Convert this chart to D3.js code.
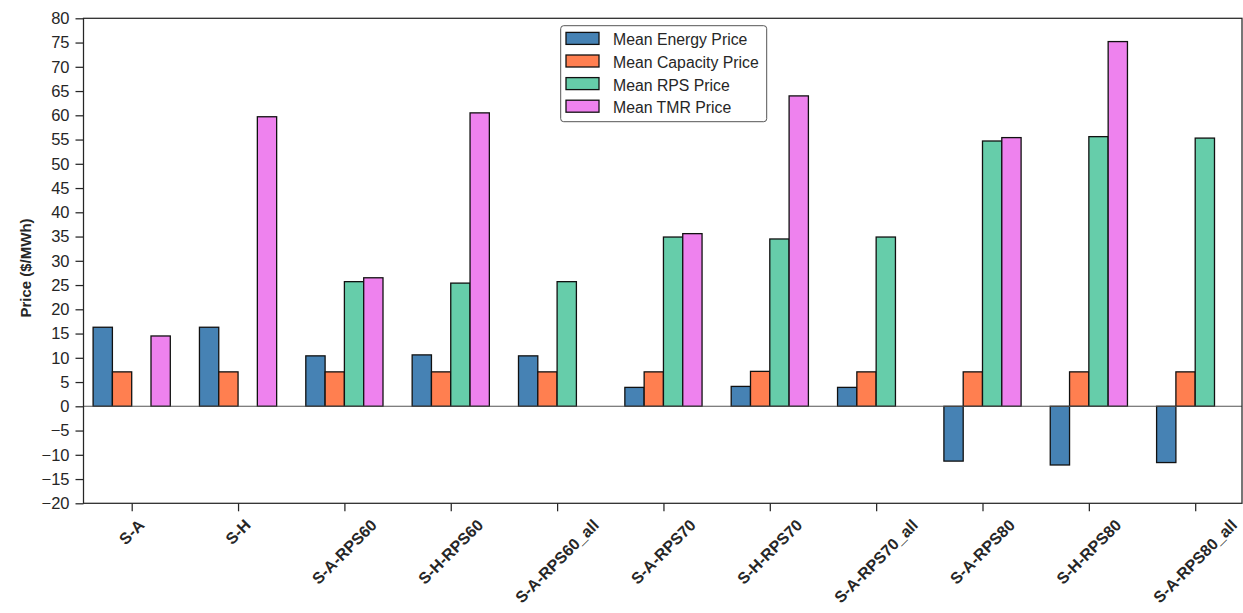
<!DOCTYPE html>
<html>
<head>
<meta charset="utf-8">
<script src="https://cdn.jsdelivr.net/npm/d3@7"></script>
<style>
  body { margin: 0; background: #fff; }
  svg { display: block; font-family: "Liberation Sans", Arial, sans-serif; }
</style>
</head>
<body>
<div id="chart"></div>
<script>
// scenario names on the x axis
const scenarios = ["S-A", "S-H", "S-A-RPS60", "S-H-RPS60", "S-A-RPS60_all", "S-A-RPS70",
                   "S-H-RPS70", "S-A-RPS70_all", "S-A-RPS80", "S-H-RPS80", "S-A-RPS80_all"];

// series ($/MWh)
const seriesNames = ["Mean Energy Price", "Mean Capacity Price", "Mean RPS Price", "Mean TMR Price"];
const energyPrice   = [16.3, 16.3, 10.4, 10.6, 10.4, 3.9, 4.1, 3.9, -11.3, -12.1, -11.6];
const capacityPrice = [7.1, 7.1, 7.1, 7.1, 7.1, 7.1, 7.2, 7.1, 7.1, 7.1, 7.1];
const rpsPrice      = [0, 0, 25.7, 25.4, 25.7, 34.9, 34.5, 34.9, 54.7, 55.6, 55.3];
const tmrPrice      = [14.5, 59.7, 26.5, 60.5, 0, 35.6, 64.0, 0, 55.4, 75.2, 0];

const yTicks = d3.range(-20, 81, 5);
const colors = ["#4682B4", "#FF7F50", "#66CDAA", "#EE82EE"];

const seriesValues = [energyPrice, capacityPrice, rpsPrice, tmrPrice];

const W = 1243, H = 613;
const plot = {left: 83.5, right: 1242, top: 18.3, bottom: 503.3};
const ink = "#262626";

const svg = d3.select("#chart").append("svg")
    .attr("width", W)
    .attr("height", H);

// scales
const x = d3.scalePoint()
    .domain(scenarios)
    .range([131.7, 1195.2]);

const xSub = d3.scaleBand()
    .domain(seriesNames)
    .range([-38.6, 38.6])
    .padding(0);

const y = d3.scaleLinear()
    .domain([-20, 80])
    .range([plot.bottom, plot.top]);

// bars
const rows = [];
scenarios.forEach((s, i) => {
    seriesNames.forEach((name, k) => {
        rows.push({scenario: s, series: name, value: seriesValues[k][i], color: colors[k]});
    });
});

svg.append("g")
    .selectAll("rect")
    .data(rows)
    .join("rect")
    .attr("x", d => x(d.scenario) + xSub(d.series))
    .attr("y", d => y(Math.max(0, d.value)))
    .attr("width", xSub.bandwidth())
    .attr("height", d => Math.abs(y(d.value) - y(0)))
    .attr("fill", d => d.color)
    .attr("stroke", "#111")
    .attr("stroke-width", 1.3);

// zero line
svg.append("line")
    .attr("x1", plot.left).attr("x2", plot.right)
    .attr("y1", y(0)).attr("y2", y(0))
    .attr("stroke", "#555")
    .attr("stroke-width", 1.1);

// y axis
const yAxis = svg.append("g")
    .attr("transform", `translate(${plot.left},0)`)
    .call(d3.axisLeft(y).tickValues(yTicks).tickSize(8).tickPadding(6)
        .tickFormat(d => String(d).replace("-", "\u2212")));
yAxis.select(".domain").remove();
yAxis.selectAll(".tick line").attr("stroke", ink).attr("stroke-width", 1.25);
yAxis.selectAll(".tick text")
    .attr("fill", ink)
    .style("font-size", "16.5px");

// x axis ticks
const xAxis = svg.append("g")
    .attr("transform", `translate(0,${plot.bottom})`)
    .call(d3.axisBottom(x).tickSize(8).tickFormat(""));
xAxis.select(".domain").remove();
xAxis.selectAll(".tick line").attr("stroke", ink).attr("stroke-width", 1.25);

// rotated x labels, centred under each tick
const xLabels = svg.append("g")
    .selectAll("text")
    .data(scenarios)
    .join("text")
    .text(d => d)
    .attr("text-anchor", "middle")
    .attr("dominant-baseline", "central")
    .attr("fill", ink)
    .style("font-size", "16px")
    .style("font-weight", "bold");

xLabels.each(function(d) {
    let len = this.getComputedTextLength();
    let cy = 518 + (len + 12) * 0.3536;
    d3.select(this)
        .attr("x", x(d))
        .attr("y", cy)
        .attr("transform", `rotate(-45, ${x(d)}, ${cy})`);
});

// frame
svg.append("rect")
    .attr("x", plot.left).attr("y", plot.top)
    .attr("width", plot.right - plot.left)
    .attr("height", plot.bottom - plot.top)
    .attr("fill", "none")
    .attr("stroke", ink)
    .attr("stroke-width", 1.25);

// y label
svg.append("text")
    .attr("transform", "translate(25,268) rotate(-90)")
    .attr("text-anchor", "middle")
    .attr("dominant-baseline", "central")
    .attr("fill", ink)
    .style("font-size", "15px")
    .style("font-weight", "bold")
    .text("Price ($/MWh)");

// legend
const legend = svg.append("g");
legend.append("rect")
    .attr("x", 560.7).attr("y", 25.7)
    .attr("width", 206).attr("height", 96)
    .attr("rx", 3)
    .attr("fill", "#fff")
    .attr("stroke", "#555")
    .attr("stroke-width", 1);

const items = legend.selectAll("g.item")
    .data(seriesNames)
    .join("g")
    .attr("class", "item")
    .attr("transform", (d, i) => `translate(566,${38.4 + i * 22.6})`);

items.append("rect")
    .attr("x", 0).attr("y", -6)
    .attr("width", 33).attr("height", 12)
    .attr("fill", (d, i) => colors[i])
    .attr("stroke", "#111")
    .attr("stroke-width", 1.3);

items.append("text")
    .attr("x", 47)
    .attr("y", 1.5)
    .attr("dominant-baseline", "central")
    .attr("fill", ink)
    .style("font-size", "15.8px")
    .text(d => d);
</script>
</body>
</html>
